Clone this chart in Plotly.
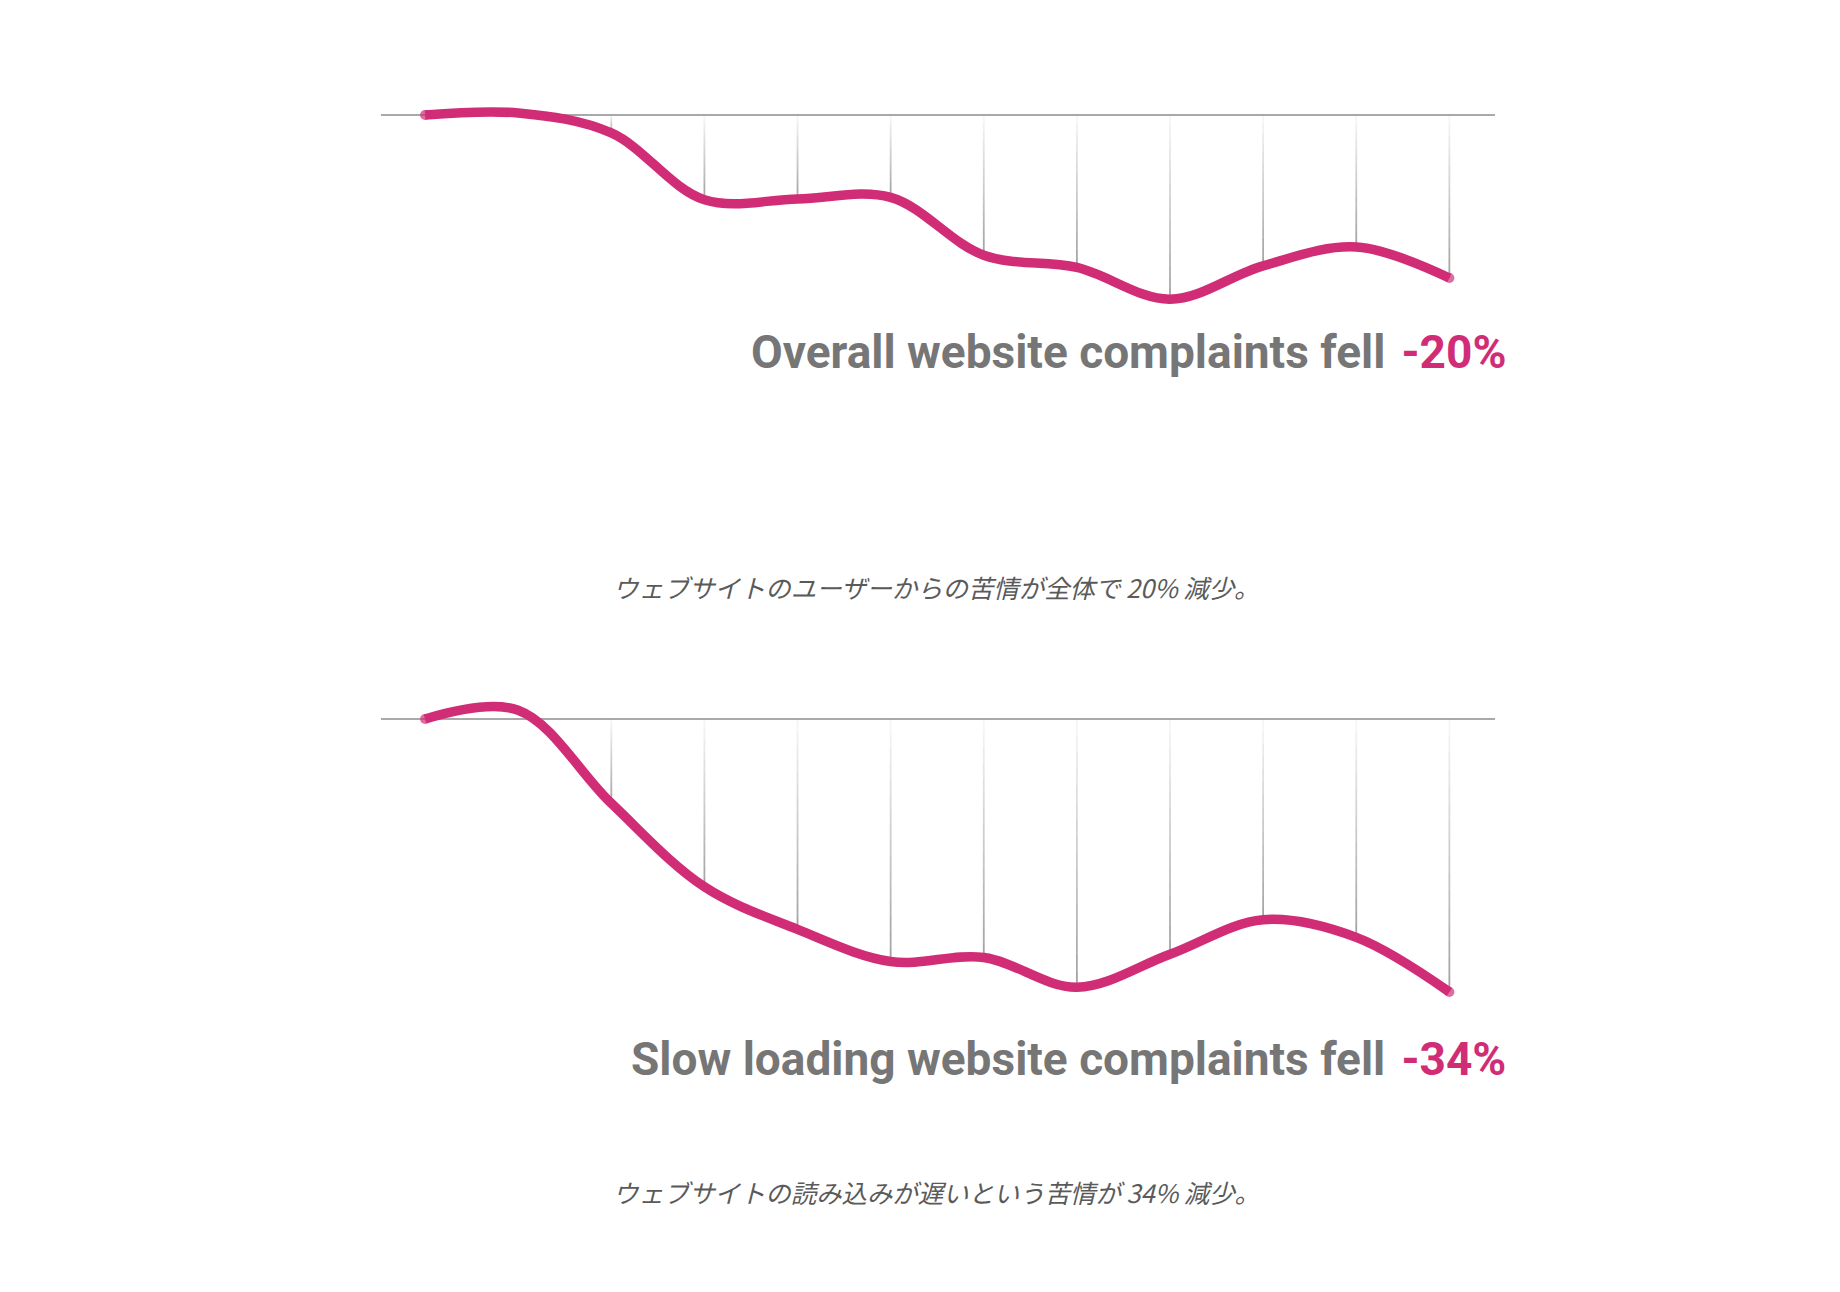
import plotly.graph_objects as go

# months (12 points), values are % change vs. first month
months = list(range(12))
overall_change = [0.0, 0.25, -2.2, -10.4, -10.3, -10.1, -17.2, -18.7, -22.6, -18.5, -16.2, -20.0]
slow_change = [0.0, 1.1, -10.5, -20.9, -26.2, -30.2, -29.7, -33.4, -29.3, -25.0, -27.2, -34.0]

titles = ["Overall website complaints fell", "Slow loading website complaints fell"]
drops = ["-20%", "-34%"]
subtitles = ["ウェブサイトのユーザーからの苦情が全体で 20% 減少。",
             "ウェブサイトの読み込みが遅いという苦情が 34% 減少。"]

# the page body keeps its default 8px margin, so the figure is a bit smaller
PAGE_OFF = 8
W, H = 1840 - 2 * PAGE_OFF, 1292 - 2 * PAGE_OFF
PINK = "#d12d77"
GRAY_TXT = "#767676"


def fx(p):
    return (p - PAGE_OFF) / W


def fy(p):
    return 1 - (p - PAGE_OFF) / H


fig = go.Figure()

panels = [
    # (values, axis suffix, y range, domain top px, domain bottom px, title y px, subtitle y px)
    (overall_change, "", [3.07, -25.15], 90, 320, 352, 587),
    (slow_change, "2", [3.61, -36.24], 690, 1010, 1059, 1192),
]

x_range = [-0.473, 11.49]
x_dom = [fx(381), fx(1495)]

for k, (vals, ax, yr, top, bot, ty, sy) in enumerate(panels):
    xa, ya = "x" + ax, "y" + ax
    # fading drop lines from baseline down to each point
    nseg = 16
    for i in range(1, len(months)):
        v = vals[i]
        if v > -0.5:
            continue
        for s in range(nseg):
            y0 = v * s / nseg
            y1 = v * (s + 1) / nseg
            a = 0.05 + 0.6 * (s + 0.5) / nseg
            fig.add_shape(type="line", xref=xa, yref=ya, x0=months[i], x1=months[i],
                          y0=y0, y1=y1, layer="below",
                          line=dict(color=f"rgba(110,110,110,{a:.3f})", width=1.8))
    # baseline
    fig.add_shape(type="line", xref=xa + " domain", yref=ya, x0=0, x1=1, y0=0, y1=0,
                  layer="below", line=dict(color="#a9a9a9", width=2))
    sizes = [10] + [0] * (len(months) - 2) + [10]
    fig.add_trace(go.Scatter(
        x=months, y=vals, xaxis=xa, yaxis=ya, mode="lines+markers",
        line=dict(color=PINK, width=9.5, shape="spline", smoothing=1.0),
        marker=dict(color=PINK, size=sizes, line=dict(width=0)),
        hoverinfo="skip", showlegend=False,
    ))
    fig.add_annotation(
        xref="paper", yref="paper", x=fx(1508), y=fy(ty), xanchor="right", yanchor="middle",
        showarrow=False,
        text=f"<b>{titles[k]} &#8202;<span style='color:{PINK}'>{drops[k]}</span></b>",
        font=dict(family="Roboto, Arial, sans-serif", size=46, color=GRAY_TXT),
    )
    fig.add_annotation(
        xref="paper", yref="paper", x=fx(611), y=fy(sy), xanchor="left", yanchor="middle",
        showarrow=False, text=f"<i>{subtitles[k]}</i>",
        font=dict(family="Noto Sans CJK JP, sans-serif", size=25.4, color="#5a5a5a"),
    )
    axis_common = dict(visible=False, showgrid=False, zeroline=False, fixedrange=True)
    fig.update_layout(**{
        "xaxis" + ax: dict(range=x_range, domain=x_dom, anchor=ya, **axis_common),
        "yaxis" + ax: dict(range=yr[::-1], domain=[fy(bot), fy(top)], anchor=xa, **axis_common),
    })

fig.update_layout(
    width=W, height=H,
    margin=dict(l=0, r=0, t=0, b=0),
    paper_bgcolor="white", plot_bgcolor="white",
    showlegend=False,
)

fig.write_html("out.html")
